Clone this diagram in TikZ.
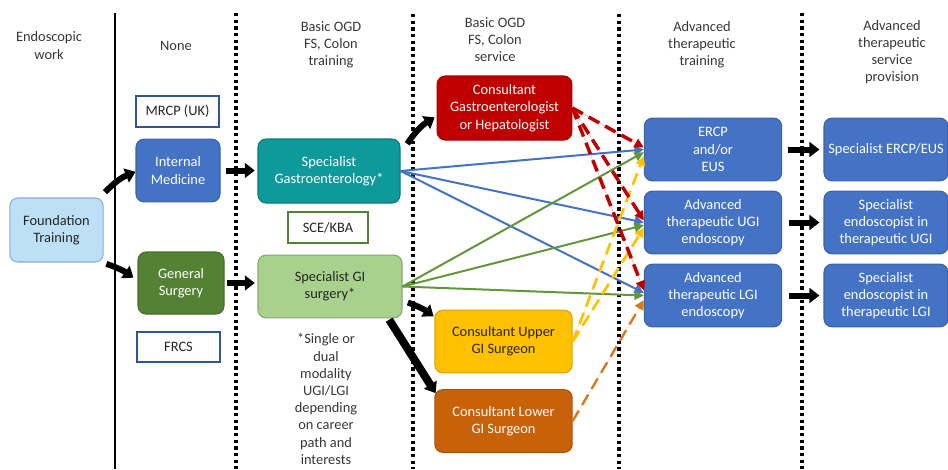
\documentclass[tikz,border=0pt]{standalone}
\usepackage{fontspec}
\setmainfont{Carlito}
\usetikzlibrary{arrows.meta}

\definecolor{nhsblue}{RGB}{68,114,196}
\definecolor{blueedge}{RGB}{58,98,168}
\definecolor{examblue}{RGB}{47,85,151}
\definecolor{surggreen}{RGB}{84,130,53}
\definecolor{gastroteal}{RGB}{14,154,154}
\definecolor{lightgreen}{RGB}{169,209,142}
\definecolor{consred}{RGB}{192,0,0}
\definecolor{consyellow}{RGB}{255,192,0}
\definecolor{consorange}{RGB}{200,98,10}
\definecolor{linkgreen}{RGB}{98,150,58}
\definecolor{dashorange}{RGB}{214,120,30}
\definecolor{fdblue}{RGB}{189,224,246}
\definecolor{fdedge}{RGB}{143,170,220}
\definecolor{headgray}{RGB}{55,55,55}
\definecolor{txtdark}{RGB}{38,38,38}

\begin{document}
\begin{tikzpicture}[x=0.75pt,y=-0.75pt]
\useasboundingbox (0,0) rectangle (948,469);

\tikzset{box/.style = {shape=rectangle,rounded corners=6pt,draw,line width=0.8pt,align=center,inner sep=2pt,font=\fontsize{10.8}{13}\selectfont}}
\tikzset{midbox/.style = {box,minimum width=103pt,minimum height=47pt}}
\tikzset{endbox/.style = {box,fill=nhsblue,draw=blueedge,text=white,minimum width=93pt,minimum height=47pt}}
\tikzset{exam/.style = {shape=rectangle,draw=examblue,line width=1.5pt,fill=white,text=txtdark,minimum width=62pt,minimum height=23pt,font=\fontsize{10.8}{13}\selectfont}}
\tikzset{heading/.style = {align=center,text=headgray,font=\fontsize{10.8}{12.9}\selectfont}}
\tikzset{bigarrow/.style = {-{Triangle[width=11pt,length=7.5pt]},line width=4.5pt}}
\tikzset{link/.style = {-{Triangle[width=7pt,length=7pt]},line width=1.5pt}}
\tikzset{dashlink/.style = {link,dash pattern=on 9pt off 5pt}}
\tikzset{divider/.style = {line width=2.6pt,dash pattern=on 2.6pt off 2.4pt}}

% column dividers
\draw[line width=1.5pt] (115,13) -- (115,469);
\draw[divider] (236,13) -- (236,469);
\draw[divider] (413,14) -- (413,469);
\draw[divider] (619,14) -- (619,469);
\draw[divider] (802,13) -- (802,469);

% headings
\node[heading] (hwork) at (49,45.5) {Endoscopic\\work};
\node[heading] (hnone) at (176,46) {None};
\node[heading] (htrain) at (331,45) {Basic OGD\\FS, Colon\\training};
\node[heading] (hserv) at (495,39.5) {Basic OGD\\FS, Colon\\service};
\node[heading] (hadv) at (702,44.5) {Advanced\\therapeutic\\training};
\node[heading] (hprov) at (892,52) {Advanced\\therapeutic\\service\\provision};

% boxes
\node[box,fill=fdblue,draw=fdedge,text=txtdark,minimum width=70pt,minimum height=48pt] (found) at (56.5,230) {Foundation\\Training};
\node[exam] (mrcp) at (177.5,111.5) {MRCP (UK)};
\node[box,fill=nhsblue,draw=blueedge,text=white,minimum width=63pt,minimum height=47pt] (im) at (178,170.5) {Internal\\Medicine};
\node[box,fill=surggreen,draw=surggreen!85!black,text=white,minimum width=64.5pt,minimum height=46.5pt] (gs) at (181,283) {General\\Surgery};
\node[exam] (frcs) at (178.5,347) {FRCS};
\node[box,fill=gastroteal,draw=gastroteal!80!black,text=white,minimum width=106.5pt,minimum height=48pt] (sg) at (329,171) {Specialist\\Gastroenterology*};
\node[exam,draw=surggreen,minimum width=60pt] (sce) at (328,227.5) {SCE/KBA};
\node[box,fill=lightgreen,draw=lightgreen!80!black,text=txtdark,minimum width=108pt,minimum height=47pt] (sgi) at (330,286.5) {Specialist GI\\surgery*};
\node[heading] (note) at (326,399) {*Single or\\dual\\modality\\UGI/LGI\\depending\\on career\\path and\\interests};
\node[midbox,fill=consred,draw=consred!85!black,text=white,minimum width=101pt,minimum height=48pt] (cg) at (504.5,108) {Consultant\\Gastroenterologist\\or Hepatologist};
\node[midbox,fill=consyellow,draw=consyellow!85!black,text=txtdark] (cu) at (503.5,341.5) {Consultant Upper\\GI Surgeon};
\node[midbox,fill=consorange,draw=consorange!85!black,text=white] (cl) at (503.5,421) {Consultant Lower\\GI Surgeon};
\node[midbox,fill=nhsblue,draw=blueedge,text=white] (ercp) at (713,149.5) {ERCP\\and/or\\EUS};
\node[midbox,fill=nhsblue,draw=blueedge,text=white] (augi) at (713,222.5) {Advanced\\therapeutic UGI\\endoscopy};
\node[midbox,fill=nhsblue,draw=blueedge,text=white] (algi) at (713,295.5) {Advanced\\therapeutic LGI\\endoscopy};
\node[endbox] (sercp) at (886,149.5) {Specialist ERCP/EUS};
\node[endbox] (sugi) at (886,222.5) {Specialist\\endoscopist in\\therapeutic UGI};
\node[endbox] (slgi) at (886,295.5) {Specialist\\endoscopist in\\therapeutic LGI};

% career steps
\draw[bigarrow] ([shift={(1pt,4pt)}]found.north east) to[bend left=12] ([yshift=-1pt]im.west);
\draw[bigarrow] ([shift={(2pt,-1pt)}]found.south east) to[bend left=8] ([shift={(-3pt,4pt)}]gs.west);
\draw[bigarrow,shorten <=4pt,shorten >=2pt] (im.east) -- (im.east -| sg.west);
\draw[bigarrow,shorten <=2pt,shorten >=2pt] (gs.east) -- (gs.east -| sgi.west);
\draw[bigarrow] ([shift={(5pt,-4pt)}]sg.north east) to[bend left=12] ([shift={(-1.5pt,-7pt)}]cg.west);
\draw[bigarrow] ([shift={(4pt,-12pt)}]sgi.east) to[bend left=8] ([shift={(-0.5pt,-5pt)}]cu.north west);
\draw[bigarrow,line width=6pt] ([shift={(-10pt,-1pt)}]sgi.south east) -- ([shift={(1pt,-3pt)}]cl.north west);
\draw[bigarrow,shorten <=4.5pt,shorten >=3pt] (ercp.east) -- (sercp.west);
\draw[bigarrow,shorten <=5pt,shorten >=3pt] (augi.east) -- (sugi.west);
\draw[bigarrow,shorten <=5pt,shorten >=3pt] (algi.east) -- (slgi.west);

% routes into advanced training
\draw[link,draw=nhsblue,fill=nhsblue] (sg.east) -- (ercp.west);
\draw[link,draw=nhsblue,fill=nhsblue] (sg.east) -- (augi.west);
\draw[link,draw=nhsblue,fill=nhsblue] (sg.east) -- ([yshift=2pt]algi.west);
\draw[link,draw=linkgreen,fill=linkgreen] (sgi.east) -- ([yshift=-2pt]ercp.west);
\draw[link,draw=linkgreen,fill=linkgreen] (sgi.east) -- ([yshift=-2pt]augi.west);
\draw[link,draw=linkgreen,fill=linkgreen] (sgi.east) -- (algi.west);
\draw[dashlink,draw=consyellow,fill=consyellow,line width=2pt] (cu.east) -- ([yshift=-5pt]ercp.west);
\draw[dashlink,draw=consyellow,fill=consyellow,line width=2pt] (cu.east) -- ([yshift=-4pt]augi.west);
\draw[dashlink,draw=dashorange,fill=dashorange,line width=1.8pt] (cl.east) -- ([yshift=-3.5pt]algi.west);
\draw[dashlink,draw=consred,fill=consred,line width=2.6pt] (cg.east) -- ([yshift=1.5pt]ercp.west);
\draw[dashlink,draw=consred,fill=consred,line width=2.6pt] (cg.east) -- ([yshift=1.5pt]augi.west);
\draw[dashlink,draw=consred,fill=consred,line width=2.6pt] (cg.east) -- ([yshift=4pt]algi.west);

\end{tikzpicture}
\end{document}
